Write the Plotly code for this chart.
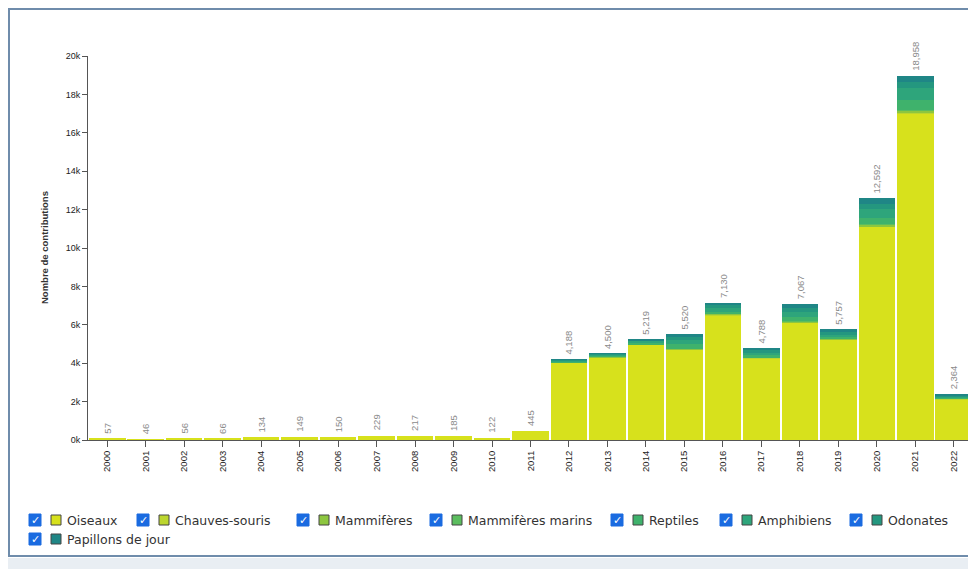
import plotly.graph_objects as go

years = [str(y) for y in range(2000, 2023)]

oiseaux = [57, 46, 56, 66, 134, 149, 150, 229, 217, 185, 122, 445,
           4030, 4300, 4960, 4690, 6510, 4260, 6110, 5240, 11110, 17010, 2130]
chauves_souris = [0]*12 + [10, 10, 9, 20, 20, 15, 25, 15, 30, 40, 8]
mammiferes = [0]*12 + [20, 25, 30, 40, 40, 35, 60, 40, 80, 100, 20]
mammiferes_marins = [0]*12 + [0, 0, 0, 10, 10, 8, 10, 5, 15, 20, 0]
reptiles = [0]*12 + [30, 40, 60, 220, 100, 90, 200, 60, 330, 520, 40]
amphibiens = [0]*12 + [60, 80, 110, 240, 200, 130, 250, 120, 470, 620, 90]
odonates = [0]*12 + [20, 25, 30, 150, 130, 130, 220, 140, 280, 330, 40]
papillons = [0]*12 + [18, 20, 20, 150, 120, 120, 192, 137, 277, 318, 36]

series_names = ["Oiseaux", "Chauves-souris", "Mammifères", "Mammifères marins",
                "Reptiles", "Amphibiens", "Odonates", "Papillons de jour"]
series_values = [oiseaux, chauves_souris, mammiferes, mammiferes_marins,
                 reptiles, amphibiens, odonates, papillons]
series_colors = ["#d7e11c", "#bcd62e", "#8dc63f", "#5bbd5e",
                 "#3fb26c", "#2ea57b", "#24977f", "#1f8686"]

y_tickvals = list(range(0, 20001, 2000))
y_ticktext = [f"{v // 1000}k" for v in y_tickvals]

# layout geometry: positions given in screenshot pixels, page has an 8px body offset
W_FIG, H_FIG = 976, 569
OFF = 8
PLOT_L, PLOT_R, PLOT_T, PLOT_B = 88, 973, 56, 440
L = PLOT_L - OFF
T = PLOT_T - OFF
R = W_FIG - (PLOT_R - OFF)
B = H_FIG - (PLOT_B - OFF)
PW = PLOT_R - PLOT_L
PH = PLOT_B - PLOT_T


def px(x):
    return (x - PLOT_L) / PW


def py(y):
    return (PLOT_B - y) / PH


fig = go.Figure()
for name, vals, col in zip(series_names, series_values, series_colors):
    fig.add_trace(go.Bar(x=years, y=vals, name=name, marker_color=col,
                         marker_line_width=0))

totals = [sum(v[i] for v in series_values) for i in range(len(years))]

annotations = []
for i, tot in enumerate(totals):
    annotations.append(dict(x=i, y=tot, xref="x", yref="y", text=f"{tot:,}", textangle=-90,
                            xanchor="center", yanchor="bottom", yshift=3,
                            showarrow=False,
                            font=dict(family="Liberation Sans", size=9.5, color="#8a8a8a")))

# y-axis title
annotations.append(dict(xref="paper", yref="paper", x=px(44), y=py(248),
                        text="<b>Nombre de contributions</b>", textangle=-90,
                        showarrow=False, xanchor="center", yanchor="middle",
                        font=dict(family="Liberation Sans", size=9.5, color="#333")))

shapes = []
# page frame
shapes.append(dict(type="rect", xref="paper", yref="paper",
                   x0=px(0), x1=px(1000), y0=py(558), y1=py(600),
                   fillcolor="#e9eef3", line=dict(width=0), layer="below"))
shapes.append(dict(type="rect", xref="paper", yref="paper",
                   x0=px(9), x1=px(1000), y0=py(556), y1=py(9),
                   fillcolor="rgba(0,0,0,0)", line=dict(color="#6f8cab", width=2)))

# custom legend (checkbox + swatch + label)
legend_pos = [(35, 520), (143, 520), (303, 520), (436, 520),
              (617, 520), (726, 520), (856, 520), (35, 539)]
for (cx, cy), name, col in zip(legend_pos, series_names, series_colors):
    shapes.append(dict(type="rect", xref="paper", yref="paper",
                       x0=px(cx - 6), x1=px(cx + 6), y0=py(cy + 6), y1=py(cy - 6),
                       fillcolor="#1a6be0", line=dict(color="#1a6be0", width=1)))
    annotations.append(dict(xref="paper", yref="paper", x=px(cx), y=py(cy),
                            text="✓", showarrow=False, xanchor="center", yanchor="middle",
                            font=dict(family="DejaVu Sans", size=11, color="white")))
    sx = cx + 21
    shapes.append(dict(type="rect", xref="paper", yref="paper",
                       x0=px(sx - 5), x1=px(sx + 5), y0=py(cy + 5), y1=py(cy - 5),
                       fillcolor=col, line=dict(color="#444", width=1)))
    annotations.append(dict(xref="paper", yref="paper", x=px(sx + 9), y=py(cy),
                            text=name, showarrow=False, xanchor="left", yanchor="middle",
                            font=dict(family="DejaVu Sans", size=12.5, color="#333")))

fig.update_layout(
    width=W_FIG, height=H_FIG,
    margin=dict(l=L, r=R, t=T, b=B, pad=0),
    barmode="stack", bargap=0.05,
    showlegend=False,
    plot_bgcolor="white", paper_bgcolor="white",
    annotations=annotations, shapes=shapes,
    xaxis=dict(type="category", range=[-0.5, len(years) - 0.5], autorange=False,
               tickangle=-90, showline=True, linecolor="#555",
               ticks="outside", ticklen=6, tickcolor="#555", showgrid=False,
               tickfont=dict(family="Liberation Sans", size=9.5, color="#222")),
    yaxis=dict(range=[0, 20000], autorange=False, tickvals=y_tickvals, ticktext=y_ticktext,
               showline=True, linecolor="#555", ticks="outside", ticklen=5,
               tickcolor="#555", showgrid=False, zeroline=False,
               tickfont=dict(family="Liberation Sans", size=9, color="#222")),
)

fig.write_html("out.html")
